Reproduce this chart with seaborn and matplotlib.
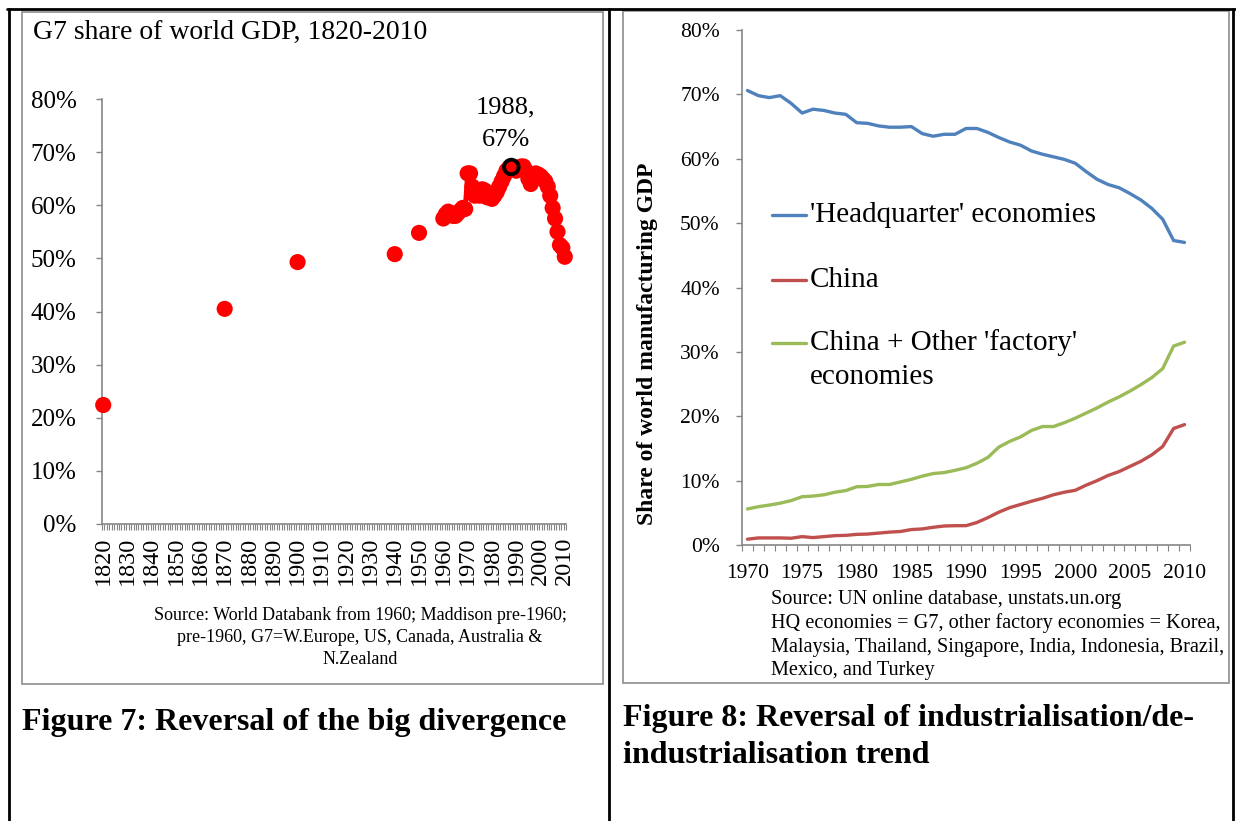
import matplotlib
matplotlib.use("Agg")
import matplotlib.pyplot as plt
import seaborn as sns
import pandas as pd
import numpy as np
from matplotlib.lines import Line2D
from matplotlib.patches import Rectangle
from matplotlib.ticker import PercentFormatter

# --- Figure 7: G7 share of world GDP (%) ---
g7_early_years = [1820, 1870, 1900, 1940, 1950]
g7_early_share = [22.4, 40.5, 49.3, 50.8, 54.8]

g7_years = list(range(1960, 2011))
g7_share = [57.5, 58.3, 58.8, 58.5, 58.0, 58.0, 58.5, 59.0, 59.5, 59.3,
            66.0, 66.0, 63.5, 61.8, 62.0, 61.8, 63.0, 62.8, 61.5, 61.5,
            61.2, 61.8, 62.5, 63.5, 64.5, 65.5, 66.5, 67.0, 67.2, 66.8,
            66.5, 66.8, 67.3, 67.3, 66.5, 65.0, 64.0, 65.0, 66.0, 65.8,
            65.5, 65.0, 64.5, 63.5, 61.8, 59.5, 57.5, 55.0, 52.5, 52.0,
            50.3]
peak_year = 1988

# --- Figure 8: share of world manufacturing GDP (%) ---
mfg_years = list(range(1970, 2011))
hq_share = [70.6, 69.8, 69.5, 69.8, 68.6, 67.1, 67.7, 67.5, 67.1, 66.9,
            65.6, 65.5, 65.1, 64.9, 64.9, 65.0, 63.9, 63.5, 63.8, 63.8,
            64.7, 64.7, 64.1, 63.3, 62.6, 62.1, 61.2, 60.7, 60.3, 59.9,
            59.3, 58.0, 56.8, 56.0, 55.5, 54.6, 53.6, 52.3, 50.6, 47.3,
            47.0]
china_share = [0.9, 1.1, 1.1, 1.1, 1.05, 1.3, 1.15, 1.3, 1.45, 1.5,
               1.65, 1.7, 1.85, 2.0, 2.1, 2.4, 2.5, 2.75, 2.95, 3.0,
               3.0, 3.5, 4.25, 5.1, 5.8, 6.3, 6.8, 7.25, 7.8, 8.2,
               8.5, 9.3, 10.0, 10.8, 11.4, 12.2, 13.0, 14.0, 15.3, 18.1,
               18.7]
factory_share = [5.6, 5.95, 6.2, 6.5, 6.9, 7.5, 7.6, 7.8, 8.2, 8.45,
                 9.05, 9.1, 9.4, 9.4, 9.8, 10.2, 10.7, 11.1, 11.25, 11.6,
                 12.0, 12.7, 13.6, 15.2, 16.1, 16.8, 17.8, 18.4, 18.4, 19.0,
                 19.7, 20.5, 21.3, 22.2, 23.0, 23.9, 24.9, 26.0, 27.4, 30.9,
                 31.5]
series_names = ["'Headquarter' economies", "China",
                "China + Other 'factory'\neconomies"]
series_colors = ["#4F81BD", "#C0504D", "#9BBB59"]

W, H = 1236, 821


def fx(x):
    return x / W


def fy(y):
    return 1 - y / H


sns.set_theme(style="white")
plt.rcParams['font.family'] = ['Liberation Serif', 'DejaVu Serif']
plt.rcParams['text.color'] = 'black'
AXIS_GREY = "#868686"

fig = plt.figure(figsize=(W / 100, H / 100), dpi=100)
fig.patch.set_facecolor("white")

# ---------------- left chart ----------------
ax1 = fig.add_axes([fx(102), fy(524), (566 - 102) / W, (524 - 99) / H])
df_modern = pd.DataFrame({"Year": g7_years, "Share": g7_share})
df_all = pd.DataFrame({"Year": g7_early_years + g7_years,
                       "Share": g7_early_share + g7_share})
sns.lineplot(data=df_modern, x="Year", y="Share", color="red", lw=3.5,
             ax=ax1, clip_on=False)
sns.scatterplot(data=df_all, x="Year", y="Share", color="red", s=135,
                edgecolor="none", ax=ax1, zorder=3, clip_on=False)
peak_val = g7_share[g7_years.index(peak_year)]
ax1.scatter([peak_year], [peak_val], s=110, facecolor="none",
            edgecolor="black", linewidth=2.8, zorder=4, clip_on=False)
ax1.annotate(f"{peak_year},\n{peak_val:.0f}%", xy=(peak_year, peak_val),
             xytext=(-4, 31), textcoords="offset points", ha="center",
             va="center", fontsize=19, linespacing=1.6, color="black")

ax1.set_xlim(1819.5, 2010.5)
ax1.set_ylim(0, 80)
ax1.set_yticks(range(0, 81, 10))
ax1.yaxis.set_major_formatter(PercentFormatter(100, decimals=0))
ax1.set_xticks(range(1820, 2011, 10))
ax1.set_xticks(np.arange(1819.5, 2011, 1), minor=True)
ax1.tick_params(axis="x", which="major", length=0, pad=9, labelsize=17.5,
                labelrotation=90, labelcolor="black")
ax1.tick_params(axis="x", which="minor", length=4, width=0.8,
                color=AXIS_GREY, direction="out", bottom=True)
ax1.tick_params(axis="y", length=4.3, width=1, color=AXIS_GREY,
                direction="out", pad=14, labelsize=18, left=True,
                labelcolor="black")
ax1.set_xlabel("")
ax1.set_ylabel("")
for side in ["top", "right"]:
    ax1.spines[side].set_visible(False)
for side in ["left", "bottom"]:
    ax1.spines[side].set_color(AXIS_GREY)
    ax1.spines[side].set_linewidth(1.2)

fig.text(fx(33), fy(32), "G7 share of world GDP, 1820-2010", fontsize=20,
         va="center", ha="left")
fig.text(fx(360), fy(606),
         "Source: World Databank from 1960; Maddison pre-1960;\n"
         "pre-1960, G7=W.Europe, US, Canada, Australia &\nN.Zealand",
         ha="center", va="top", fontsize=13, linespacing=1.4)

# ---------------- right chart ----------------
ax2 = fig.add_axes([fx(742), fy(545), (1190 - 742) / W, (545 - 30) / H])
df_mfg = pd.DataFrame({"Year": mfg_years,
                       series_names[0]: hq_share,
                       series_names[1]: china_share,
                       series_names[2]: factory_share})
df_long = df_mfg.melt(id_vars="Year", var_name="Series", value_name="Share")
sns.lineplot(data=df_long, x="Year", y="Share", hue="Series",
             palette=series_colors, lw=2.4, ax=ax2, legend=False)

ax2.set_xlim(1969.5, 2010.5)
ax2.set_ylim(0, 80)
ax2.set_yticks(range(0, 81, 10))
ax2.yaxis.set_major_formatter(PercentFormatter(100, decimals=0))
ax2.set_xticks(range(1970, 2011, 5))
ax2.set_xticks(np.arange(1969.5, 2011, 1), minor=True)
ax2.tick_params(axis="x", which="major", length=0, pad=14, labelsize=15.5,
                labelcolor="black")
ax2.tick_params(axis="x", which="minor", length=4, width=0.8,
                color=AXIS_GREY, direction="out", bottom=True)
ax2.tick_params(axis="y", length=4, width=1, color=AXIS_GREY,
                direction="out", pad=12, labelsize=15.5, left=True,
                labelcolor="black")
ax2.set_xlabel("")
ax2.set_ylabel("")
for side in ["top", "right"]:
    ax2.spines[side].set_visible(False)
for side in ["left", "bottom"]:
    ax2.spines[side].set_color(AXIS_GREY)
    ax2.spines[side].set_linewidth(1.2)

fig.text(fx(647), fy(344), "Share of world manufacturing GDP", rotation=90,
         fontweight="bold", fontsize=17, ha="center", va="center")

# legend, drawn by hand so the multi-line entry keeps its key on line one
legend_y = [215, 280, 343]
for name, col, ly in zip(series_names, series_colors, legend_y):
    fig.add_artist(Line2D([fx(772), fx(806)], [fy(ly), fy(ly)], color=col,
                          lw=2.4, transform=fig.transFigure))
    for j, line in enumerate(name.split("\n")):
        fig.text(fx(810), fy(ly + 34 * j), line, fontsize=21, va="center",
                 ha="left")

fig.text(fx(771), fy(590),
         "Source: UN online database, unstats.un.org\n"
         "HQ economies = G7, other factory economies = Korea,\n"
         "Malaysia, Thailand, Singapore, India, Indonesia, Brazil,\n"
         "Mexico, and Turkey",
         ha="left", va="top", fontsize=14.6, linespacing=1.3)

# ---------------- captions and page frame ----------------
fig.text(fx(22), fy(722), "Figure 7: Reversal of the big divergence",
         fontsize=23, fontweight="bold", va="center", ha="left")
fig.text(fx(623), fy(737),
         "Figure 8: Reversal of industrialisation/de-\nindustrialisation trend",
         fontsize=23, fontweight="bold", va="center", ha="left",
         linespacing=1.4)

for (x0, y0, x1, y1) in [(22, 12, 603, 684), (623, 11, 1229, 683)]:
    fig.add_artist(Rectangle((fx(x0), fy(y1)), (x1 - x0) / W, (y1 - y0) / H,
                             fill=False, edgecolor="#8c8c8c", lw=1.2,
                             transform=fig.transFigure))

fig.add_artist(Line2D([fx(7), fx(1236)], [fy(9.5), fy(9.5)], color="black",
                      lw=2, transform=fig.transFigure))
for vx in [8.5, 609, 1232.5]:
    fig.add_artist(Line2D([fx(vx), fx(vx)], [fy(9), fy(821)], color="black",
                          lw=2, transform=fig.transFigure))

fig.savefig("out.png", dpi=100)
plt.close(fig)
